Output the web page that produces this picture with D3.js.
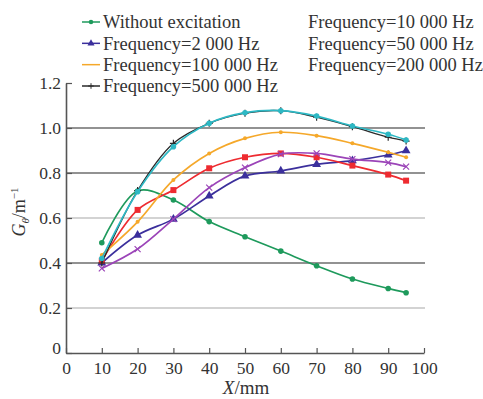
<!DOCTYPE html>
<html lang="en">
<head>
	<meta charset="UTF-8">
	<title>G vs X</title>
	<script type="text/javascript" src="https://d3js.org/d3.v7.min.js"></script>
	<style>
		body { margin: 0; background: #fff; }
		svg text { font-family: "Liberation Serif", "Times New Roman", serif; fill: #333; }
	</style>
</head>
<body>
	<svg></svg>

	<script type="text/javascript">
		// distances along X (mm)
		var xs = [10, 20, 30, 40, 50, 60, 70, 80, 90, 95];
		// G values (1/m)
		var noExc = [0.49, 0.72, 0.68, 0.584, 0.517, 0.453, 0.388, 0.329, 0.287, 0.268];
		var f2k = [0.40, 0.524, 0.595, 0.698, 0.787, 0.809, 0.838, 0.855, 0.88, 0.899];
		var f10k = [0.41, 0.636, 0.724, 0.821, 0.87, 0.887, 0.87, 0.833, 0.793, 0.766];
		var f50k = [0.376, 0.462, 0.595, 0.735, 0.824, 0.884, 0.887, 0.862, 0.846, 0.828];
		var f100k = [0.436, 0.583, 0.769, 0.887, 0.954, 0.981, 0.966, 0.932, 0.892, 0.87];
		var f200k = [0.42, 0.717, 0.917, 1.021, 1.068, 1.077, 1.053, 1.009, 0.972, 0.947];
		var f500k = [0.40, 0.722, 0.932, 1.021, 1.066, 1.077, 1.048, 1.006, 0.959, 0.942];

		var xTicks = [0, 10, 20, 30, 40, 50, 60, 70, 80, 90, 100];
		var yTicks = [0, 0.2, 0.4, 0.6, 0.8, 1.0, 1.2];
		var gridDark = [0.4, 0.8, 1.0];
		var gridLight = [0.2, 0.6];

		var series = [
			{ name: "Without excitation", vals: noExc, color: "#1e9a5c", mark: "circle", w: 1.7 },
			{ name: "Frequency=2 000 Hz", vals: f2k, color: "#3b2f9c", mark: "triangle", w: 1.7 },
			{ name: "Frequency=10 000 Hz", vals: f10k, color: "#ee2b30", mark: "square", w: 1.7 },
			{ name: "Frequency=50 000 Hz", vals: f50k, color: "#9b44b8", mark: "cross", w: 1.7 },
			{ name: "Frequency=100 000 Hz", vals: f100k, color: "#f5a82a", mark: "dot", w: 1.7 },
			{ name: "Frequency=500 000 Hz", vals: f500k, color: "#2a2a2a", mark: "plus", w: 1.3 },
			{ name: "Frequency=200 000 Hz", vals: f200k, color: "#2db8c4", mark: "circle", w: 1.7 }
		];
		// legend layout: column 1 has symbols, column 2 in the source is text only
		var legendCol1 = ["Without excitation", "Frequency=2 000 Hz", "Frequency=100 000 Hz", "Frequency=500 000 Hz"];
		var legendCol2 = ["Frequency=10 000 Hz", "Frequency=50 000 Hz", "Frequency=200 000 Hz"];

		var width = 483, height = 399;
		var svg = d3.select("svg").attr("width", width).attr("height", height);

		// plot frame (window.top is reserved, so prefixed names)
		var pLeft = 66, pRight = 424, pTop = 83, pBottom = 353;
		var scaleX = d3.scaleLinear().domain([0, 100]).range([pLeft, pRight]);
		var scaleY = d3.scaleLinear().domain([0, 1.2]).range([pBottom, pTop]);

		// grid
		svg.selectAll(".gd").data(gridDark).enter().append("line")
			.attr("x1", pLeft).attr("x2", pRight + 1)
			.attr("y1", function(d) { return scaleY(d); })
			.attr("y2", function(d) { return scaleY(d); })
			.attr("stroke", "#6e6e6e").attr("stroke-width", 1.3);
		svg.selectAll(".gl").data(gridLight).enter().append("line")
			.attr("x1", pLeft).attr("x2", pRight + 1)
			.attr("y1", function(d) { return scaleY(d); })
			.attr("y2", function(d) { return scaleY(d); })
			.attr("stroke", "#a8a8a8").attr("stroke-width", 1.2);

		// axes
		var axisX = d3.axisBottom(scaleX).tickValues(xTicks).tickSizeInner(-5).tickSizeOuter(0)
			.tickFormat(d3.format("d")).tickPadding(8);
		var axisY = d3.axisLeft(scaleY).tickValues(yTicks).tickSizeInner(-6).tickSizeOuter(0)
			.tickFormat(function(d) { return d === 0 ? "0" : d3.format(".1f")(d); }).tickPadding(5);

		var gx = svg.append("g").attr("transform", "translate(0," + pBottom + ")").call(axisX);
		var gy = svg.append("g").attr("transform", "translate(" + pLeft + ",0)").call(axisY);
		[gx, gy].forEach(function(g) {
			g.select(".domain").attr("stroke", "#555").attr("stroke-width", 1.6);
			g.selectAll(".tick line").attr("stroke", "#555").attr("stroke-width", 1.2);
			g.selectAll("text").attr("font-size", 17.5).attr("font-family", "Liberation Serif").attr("fill", "#333");
		});
		gx.selectAll(".tick text").attr("dy", "0.75em");
		gy.selectAll(".tick").filter(function(d) { return d === 0; }).select("text").attr("dy", "0");

		// axis titles
		var xt = svg.append("text").attr("x", 246).attr("y", 394).attr("text-anchor", "middle").attr("font-size", 19);
		xt.append("tspan").attr("font-style", "italic").text("X");
		xt.append("tspan").text("/mm");

		var yt = svg.append("text").attr("transform", "translate(25,212) rotate(-90)")
			.attr("text-anchor", "middle").attr("font-size", 18);
		yt.append("tspan").attr("font-style", "italic").text("G");
		yt.append("tspan").attr("font-style", "italic").attr("font-size", 11).attr("dy", 4).text("θ");
		yt.append("tspan").attr("dy", -4).text("/m");
		yt.append("tspan").attr("font-size", 11).attr("dy", -7).text("−1");

		// lines
		var line = d3.line()
			.x(function(d) { return scaleX(d[0]); })
			.y(function(d) { return scaleY(d[1]); })
			.curve(d3.curveCatmullRom.alpha(0.5));

		function drawMark(g, type, color, x, y, s) {
			if (type === "circle") {
				g.append("circle").attr("cx", x).attr("cy", y).attr("r", 2.8 * s).attr("fill", color);
			} else if (type === "dot") {
				g.append("circle").attr("cx", x).attr("cy", y).attr("r", 2 * s).attr("fill", color);
			} else if (type === "triangle") {
				g.append("path").attr("d", d3.symbol().type(d3.symbolTriangle).size(34 * s * s)())
					.attr("transform", "translate(" + x + "," + y + ")").attr("fill", color);
			} else if (type === "square") {
				g.append("rect").attr("x", x - 3 * s).attr("y", y - 3 * s).attr("width", 6 * s).attr("height", 6 * s).attr("fill", color);
			} else if (type === "cross") {
				g.append("path").attr("d", "M-3,-3L3,3M-3,3L3,-3")
					.attr("transform", "translate(" + x + "," + y + ") scale(" + s + ")")
					.attr("stroke", color).attr("stroke-width", 1.2).attr("fill", "none");
			} else if (type === "plus") {
				g.append("path").attr("d", "M-3.5,0L3.5,0M0,-3.5L0,3.5")
					.attr("transform", "translate(" + x + "," + y + ") scale(" + s + ")")
					.attr("stroke", color).attr("stroke-width", 1.2).attr("fill", "none");
			}
		}

		var plot = svg.append("g");
		series.forEach(function(s) {
			var pts = xs.map(function(x, i) { return [x, s.vals[i]]; });
			plot.append("path").datum(pts).attr("d", line)
				.attr("fill", "none").attr("stroke", s.color).attr("stroke-width", s.w);
			var mg = plot.append("g");
			pts.forEach(function(p) { drawMark(mg, s.mark, s.color, scaleX(p[0]), scaleY(p[1]), 1); });
		});

		// legend
		var lg = svg.append("g");
		var rowY = d3.scalePoint().domain(d3.range(4)).range([22, 86]);
		legendCol1.forEach(function(name, i) {
			var s = series.find(function(d) { return d.name === name; });
			var y = rowY(i);
			lg.append("line").attr("x1", 82).attr("x2", 100).attr("y1", y).attr("y2", y)
				.attr("stroke", s.color).attr("stroke-width", 1.5);
			if (s.mark !== "dot") drawMark(lg, s.mark, s.color, 91, y, 0.8);
			lg.append("text").attr("x", 103).attr("y", y).attr("dy", "0.35em")
				.attr("font-size", 18.5).text(name);
		});
		legendCol2.forEach(function(name, i) {
			lg.append("text").attr("x", 308).attr("y", rowY(i)).attr("dy", "0.35em")
				.attr("font-size", 18.5).text(name);
		});
	</script>
</body>
</html>
